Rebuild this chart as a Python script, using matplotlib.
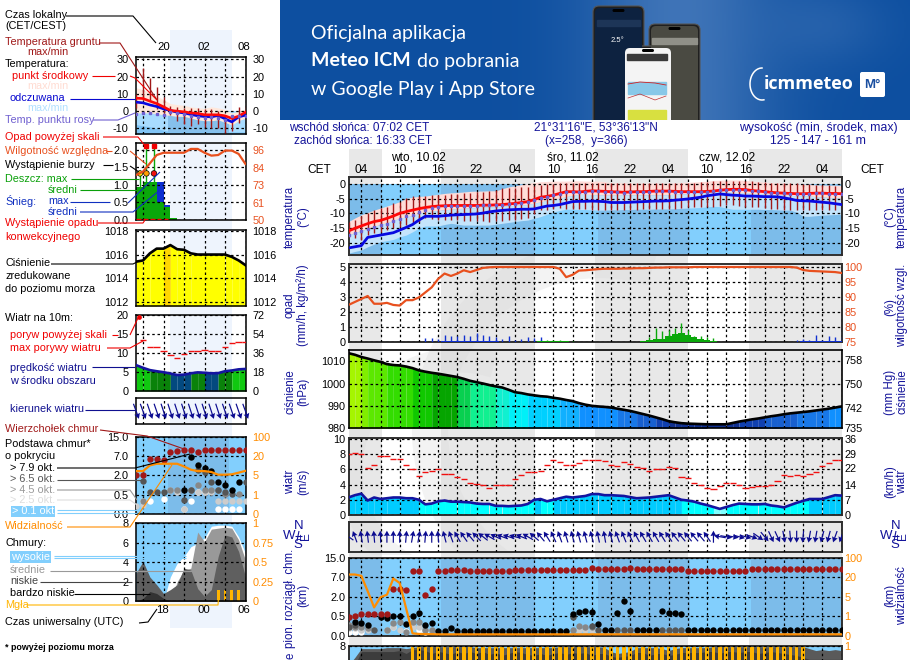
import numpy as np
import matplotlib
matplotlib.use("Agg")
import matplotlib.pyplot as plt
from matplotlib.patches import FancyBboxPatch, Rectangle

plt.rcParams['font.family'] = ['Liberation Sans', 'DejaVu Sans']
plt.rcParams['font.size'] = 7.8
plt.rcParams['axes.unicode_minus'] = False

W, H = 910, 660
NAN = float('nan')

# ---- main meteogram, hourly from 02:00 on 10.02
hours = np.arange(78)
temp_mid = [-16, -15.1, -14.3, -13.5, -12.8, -12.4, -11.7, -10.9, -10, -9.4, -8.9, -8.4, -8, -7.7, -7.5, -7.4, -7.3, -7.3, -7.3, -7.3,
            -7.3, -7.2, -7.2, -7.1, -7, -6.8, -6.6, -6.3, -6, -5.3, -4.5, -4.2, -3.8, -3.2, -2.6, -2.6, -2.7, -2.5, -2.3, -2.4,
            -2.5, -2.6, -2.7, -2.8, -2.7, -2.6, -2.6, -2.5, -2.4, -2.4, -2.4, -2.5, -2.6, -2.6, -2.6, -2.6, -2.5, -2.4, -2.1, -1.9,
            -1.8, -1.8, -1.9, -2.2, -2.4, -2.6, -2.8, -3, -3.1, -3.2, -3.3, -3.3, -3.2, -3.1, -3.1, -3.2, -3.2, -3.3]
feels_mid = [-21.8, -21.4, -21, -18.2, -17.8, -17.4, -17, -16.6, -15.7, -14.8, -13.8, -12.3, -11, -11, -11, -10.8, -10.6, -10.5, -10.4, -10.3,
             -10.2, -9.9, -9.5, -9.2, -9, -8.8, -8.7, -8.6, -8.6, -8.5, -8, -7.5, -7.3, -7, -6.5, -6, -5.9, -5.9, -5.8, -5.9,
             -6, -6.3, -6.3, -6.3, -6.2, -6.1, -6, -5.9, -5.8, -5.8, -5.7, -5.5, -5.3, -5.1, -4.8, -4.5, -4, -3.7, -3.4, -3.6,
             -3.8, -3.9, -4.1, -4.1, -4.2, -4.3, -4.3, -4.4, -4.7, -5.1, -5.6, -5.7, -5.8, -6, -6.2, -6.4, -6.7, -7]
temp_up = [-12.8, -11.6, -10.5, -9.7, -8.9, -8.2, -7.5, -6.8, -6, -4.9, -4.5, -4.2, -4.1, -3.8, -3.5, -3.2, -3, -2.9, -2.7, -2.5,
           -2.4, -2.4, -2.3, -2.3, -1.6, -1, -0.6, -0.2, 0.2, 0.5, 0.8, 0.9, 1, 1, 1, 1.1, 1.1, 1, 1, 1,
           0.8, 0.4, 0.4, 0.4, 0.3, 0.3, 0.3, 0.3, 0.3, 0.3, 0.3, 0.4, 0.5, 0.6, 0.7, 0.8, 1, 1.2, 1.3, 1.4,
           1.4, 1.4, 1.2, 1, 0.8, 0.6, 0.5, 0.4, 0.3, 0.2, 0.1, 0, -0.1, -0.3, -0.3, -0.4, -0.4, -0.5]
feels_up = [-17.4, -16.6, -15.9, -15.1, -14.4, -13.8, -13.2, -12.4, -11.7, -11.2, -10.7, -10.1, -9.5, -9.2, -9, -8.8, -8.6, -8.4, -8.3, -8.1,
            -8, -7.9, -7.8, -7.7, -7.6, -7.4, -7.3, -7.1, -7, -6.5, -6.1, -5.6, -5.2, -4.8, -4.3, -3.9, -3.5, -3.5, -3.6, -3.7,
            -3.8, -3.8, -3.8, -3.8, -3.7, -3.7, -3.7, -3.7, -3.7, -3.7, -3.6, -3.5, -3.4, -3.3, -3.1, -3, -2.8, -2.7, -2.6, -2.7,
            -2.8, -2.9, -3, -3.2, -3.3, -3.4, -3.6, -3.7, -3.8, -3.9, -4, -4, -4.1, -4.3, -4.4, -4.6, -4.7, -4.9]
feels_low = [-23.6, -23, -22.5, -21.4, -20.5, -19.7, -19.3, -18.9, -18, -17.4, -16.3, -15, -14.3, -14.3, -14.3, -13.8, -13.4, -13.7, -14, -14,
             -14, -14, -14, -13.7, -13.4, -13.1, -12.8, -12.5, -12.3, -11.7, -11.1, -10.3, -9.5, -9, -8.6, -8.6, -8.7, -8.7, -8.8, -8.9,
             -8.9, -8.8, -8.8, -8.7, -8.7, -8.6, -8.6, -8.6, -8.5, -8.5, -8.5, -8.4, -8.3, -8.2, -8.1, -8, -7.8, -7.6, -7.7, -8.2,
             -8.6, -8.6, -8.6, -8.6, -8.6, -8.7, -8.7, -8.8, -8.9, -8.9, -9.6, -11, -11, -10.8, -10.6, -10.5, -10.4, -10.3]
dew_point = [-17.5, -16.8, -16, -15.4, -14.7, -14, -13.5, -12.6, -12, -11, -10.4, -9.4, -8.7, -8.2, -7.9, -7.6, -7.5, -7.4, -7.4, -7.4,
             -7.4, -7.3, -7.3, -7.2, -7.1, -6.9, -6.7, -6.4, -6.1, -5.4, -4.6, -4.3, -3.9, -3.3, -2.7, -2.7, -2.8, -2.6, -2.4, -2.5,
             -2.6, -2.7, -2.8, -2.9, -2.8, -2.7, -2.7, -2.6, -2.5, -2.5, -2.5, -2.6, -2.7, -2.7, -2.7, -2.7, -2.6, -2.5, -2.2, -2,
             -1.9, -1.9, -2, -2.3, -2.5, -2.7, -2.9, -3.1, -3.2, -3.3, -3.4, -3.4, -3.3, -3.2, -3.2, -3.3, -3.3, -3.4]
ground_max = [-13, -12.3, -10.9, -9.8, -8.9, -8.3, -7.7, -6.6, -6, -4.9, -4.1, -4.1, -4, -3.9, -3.8, -3.6, -3.4, -3.3, -3.2, -3,
              -2.8, -2.6, -2.4, -2, -1.5, -1.3, -1.2, -1, -0.9, -0.6, -0.3, -0.1, 0, 0.2, 0.2, 0.2, 0.2, 0.2, 0.2, 0.2,
              0.2, 0.2, 0.2, 0.2, 0.2, 0.2, 0.2, 0.2, 0.2, 0.2, 0.2, 0.2, 0.3, 0.4, 0.5, 0.6, 0.8, 1, 1.1, 1.1,
              1.1, 1.1, 1, 1, 0.8, 0.6, 0.5, 0.4, 0.3, 0.2, 0.2, 0.1, 0, -0.2, -0.3, -0.4, -0.5, -0.5]
ground_min = [-18, -18.5, -19, -17.4, -16.8, -16.2, -15.7, -15.1, -14.5, -14, -13.4, -12.8, -11.7, -12, -12.3, -12.3, -12.3, -12.4, -12.6, -12.6,
              -12.7, -12.7, -12.8, -12.7, -12.6, -12.4, -12.3, -12, -11.7, -10.3, -8.9, -8.7, -8.5, -8.3, -8.4, -8.5, -8.6, -8.6, -8.7, -8.8,
              -8.9, -8.8, -8.8, -8.7, -8.7, -8.7, -8.6, -8.6, -8.6, -8.6, -8.6, -8.4, -8.2, -8, -7.9, -7.8, -7.7, -7.7, -7.5, -7.3,
              -7.2, -7.5, -7.8, -7.9, -8, -8.3, -8.4, -8.6, -8.8, -8.9, -8.9, -9, -9, -8.9, -8.9, -8.8, -8.7, -8.6]
humidity = [87.3, 88.3, 89.3, 90.3, 87.7, 87.7, 88, 87.3, 87.1, 88.9, 88.9, 89.8, 91.5, 93.2, 96, 97.8, 97, 97.8, 98.9, 98.3,
            99, 99.7, 99.9, 100, 100, 100, 100, 100, 100, 100, 100, 100, 100, 99.4, 96.6, 97.4, 98.8, 98.9, 99.1, 99.3,
            99.4, 99.4, 99.4, 99.5, 99.5, 99.6, 99.6, 99.7, 99.8, 99.8, 99.9, 99.9, 99.9, 99.9, 100, 100, 100, 100, 100, 100,
            100, 100, 100, 100, 100, 100, 100, 100, 100, 100, 99.8, 99, 98.7, 98.6, 98.5, 98.4, 98.3, 98]
rain_mean = [0, 0, 0, 0, 0, 0, 0, 0, 0, 0, 0, 0, 0, 0, 0, 0, 0, 0, 0, 0,
             0, 0, 0, 0, 0, 0, 0, 0, 0, 0.01, 0.02, 0.02, 0.02, 0.02, 0.02, 0.01, 0, 0, 0, 0,
             0, 0, 0, 0, 0, 0, 0.02, 0.1, 0.15, 0.2, 0.35, 0.5, 0.6, 0.45, 0.3, 0.15, 0.1, 0.05, 0, 0,
             0, 0, 0, 0, 0, 0, 0, 0, 0, 0, 0, 0, 0, 0, 0, 0, 0, 0]
rain_max = [0, 0, 0, 0, 0, 0, 0, 0, 0, 0, 0, 0, 0, 0, 0, 0, 0, 0, 0, 0,
            0, 0, 0, 0, 0, 0, 0, 0, 0, 0.05, 0.1, 0.12, 0.1, 0.1, 0.08, 0.05, 0, 0, 0, 0,
            0, 0, 0, 0, 0, 0, 0.05, 0.3, 0.9, 0.7, 0.8, 0.9, 1.25, 0.8, 0.35, 0.4, 0.3, 0.25, 0, 0,
            0, 0, 0, 0, 0, 0, 0, 0, 0, 0, 0, 0, 0, 0, 0, 0, 0, 0]
snow_mean = [0, 0, 0, 0, 0, 0, 0, 0, 0, 0, 0, 0, 0.01, 0.01, 0.01, 0.04, 0.05, 0.05, 0.06, 0.07,
             0.08, 0.08, 0.06, 0.03, 0.01, 0.01, 0.01, 0.01, 0.01, 0.01, 0.01, 0, 0, 0, 0, 0, 0, 0, 0, 0,
             0, 0, 0, 0, 0, 0, 0, 0, 0, 0, 0, 0, 0, 0, 0, 0, 0, 0, 0, 0,
             0, 0, 0, 0, 0, 0, 0, 0, 0, 0, 0.01, 0.02, 0.02, 0.04, 0.02, 0.04, 0.03, 0.03]
snow_max = [0, 0, 0, 0, 0, 0, 0, 0, 0, 0, 0, 0, 0.25, 0.25, 0.2, 0.45, 0.35, 0.4, 0.45, 0.4,
            0.55, 0.45, 0.4, 0.3, 0.15, 0.35, 0.1, 0.2, 0.3, 0.25, 0.3, 0.05, 0, 0, 0, 0, 0, 0, 0, 0,
            0, 0, 0, 0, 0, 0, 0, 0, 0, 0, 0, 0, 0, 0, 0, 0, 0, 0, 0, 0,
            0, 0, 0, 0, 0, 0, 0, 0, 0, 0, 0.1, 0.2, 0.1, 0.45, 0.1, 0.4, 0.3, 0.3]
pressure = [1013.7, 1013, 1012, 1011.3, 1010.5, 1009.8, 1008.8, 1008.4, 1008.2, 1007.7, 1007, 1006, 1005.4, 1004.9, 1004.5, 1004, 1003.5, 1003, 1002.2, 1001.3,
            1000.7, 1000.1, 999.4, 998.8, 998.3, 997.3, 996.2, 995.8, 995.2, 994.8, 994.4, 994.2, 993.7, 993.3, 992.7, 992.2, 991.3, 990.6, 990.1, 989.8,
            989.6, 989.3, 988.8, 988.3, 987.8, 987.1, 986.4, 985.7, 984.9, 984.1, 983.2, 982.7, 982.3, 982.1, 982, 981.9, 981.8, 981.8, 981.8, 981.8,
            982.4, 983, 983.5, 984, 984.4, 984.9, 985.4, 985.8, 986.3, 986.7, 987, 987.3, 987.6, 988, 988.4, 988.8, 989.3, 989.8]
wind = [2.3, 2.6, 2.8, 1.9, 2.3, 2.1, 2.2, 2.3, 2.3, 2.2, 2.2, 2, 1.4, 1.5, 1.8, 1.9, 1.75, 1.75, 1.7, 1.65,
        1.5, 1.45, 1.45, 1.2, 1.2, 1.15, 1.2, 1.25, 1.45, 2, 2.1, 1.8, 2, 2.2, 2.4, 2.3, 2.4, 2.5, 2.75, 2.75,
        2.6, 2.6, 2.55, 2.5, 2.35, 2.2, 2.25, 2.3, 2.4, 2.5, 2.6, 2.3, 2, 1.9, 1.75, 1.5, 1.3, 1.05, 0.8, 1.05,
        1.3, 1.5, 1.45, 1.4, 1.4, 1.45, 1.25, 1.15, 1, 1.3, 1.6, 1.85, 2.1, 2.1, 2.1, 2.35, 2.6, 2.55]
gust = [8, 8.1, 8, 6.2, 6.6, 7.7, 7.7, 7.3, 7.3, 6.6, 6, 5.1, 5.6, 5.8, 6.1, 5.4, 5.4, 4.95, 4.7, 4.15,
        4.1, 3.9, 3.55, 4, 4, 4, 4.75, 5.3, 5.6, 5.7, 5.8, 6.6, 7.2, 7, 6.5, 6.6, 6.8, 7.2, 7.2, 7.2,
        7.1, 6.6, 6.4, 6.9, 6.7, 6.3, 6.2, 5.8, 6.1, 6.1, 6.3, 6.2, 5, 4.8, 4.2, 4, 3.6, 3.4, 3.8, 4.2,
        4.2, 4, 3.6, 3.7, 3.8, 3.8, 4, 4.5, 5.2, 5.1, 5.2, 5.1, 5.4, 5.7, 6.4, 6.8, 7.2, 7.2]
wind_angle = [145, 110, 100, 97, 95, 92, 90, 90, 90, 85, 80, 80, 85, 90, 95, 105, 110, 120, 125, 130,
              135, 142, 150, 155, 160, 162, 165, 158, 150, 140, 130, 122, 115, 110, 107, 105, 105, 105, 105, 102,
              100, 105, 110, 112, 115, 118, 120, 120, 120, 122, 125, 128, 130, 130, 130, 130, 125, 90, 170, -10,
              -10, -15, -15, -20, -35, -50, -65, -65, -80, -85, -90, -95, -100, -100, -105, -105, -110, -110]

cloud_top = [0.47, 0.55, 0.67, 0.67, 0.7, 0.7, 0.7, 4.07, 3.9, 3.7, 9.7, 9.7, 2.5, 3.9, 9.5, 9.7, 9.8, 9.8, 9.8, 9.7,
             9.7, 9.7, 9.7, 9.5, 9.5, 9.7, 10, 10, 10, 10, 10, 10, 10, 10, 10, 10, 10, 10, 10.6, 10.2,
             10.2, 10.2, 10.2, 10.2, 10.8, 10.2, 10.2, 10.2, 10.2, 10.2, 10.2, 10.2, 10.2, 9.7, 9.7, 9.7, 9.7, 9.7, 9.7, 9.7,
             9.7, 9.7, 9.7, 10.2, 10.2, 10.2, 10.2, 10.2, 10.2, 10.2, 10.2, 10.2, 10.2, 10.2, 10.2, 10.2, 10.2, 10.2]
base_black = [NAN, 0.36, 0.32, 0.28, NAN, 0.49, 0.45, 0.53, 0.53, 0.3, 0.53, 0.71, 0.28, 0.32, 0.13, 0.13, 0.21, 0.13, 0.13, 0.13,
              0.13, 0.13, 0.13, 0.13, 0.13, 0.13, 0.13, 0.13, 0.13, 0.13, 0.13, 0.13, 0.13, 0.13, 0.13, 0.65, 0.8, 0.92, 0.8, 0.3,
              0.14, 0.14, 0.71, 1.64, 0.92, 0.14, 0.14, 0.14, 0.14, 0.92, 0.71, 0.71, 0.65, 0.14, 0.14, 0.14, 0.14, 0.14, 0.14, 0.14,
              0.14, 0.14, 0.14, 0.14, 0.14, 0.14, 0.14, 0.14, 0.14, 0.14, 0.14, 0.14, 0.14, 0.14, 0.14, 0.14, 0.14, 0.14]
base65_hours = [0, 1, 4, 35, 38, 39, 42, 43, 44, 49, 50, 51, 52]
base65_km = [0.23, 0.28, 0.15, 0.49, 0.26, 0.15, 0.14, 0.14, 0.14, 0.14, 0.14, 0.14, 0.14]
base45_hours = [0, 1, 2, 3, 6, 7, 8, 9, 10, 11, 12, 13, 35, 36, 37, 38]
base45_km = [0.28, 0.23, 0.23, 0.19, 0.15, 0.32, 0.36, 0.1, 0.36, 0.36, 0.15, 0.15, 0.15, 0.26, 0.23, 0.23]
base25_hours = [0, 1, 2, 3, 6, 7, 8, 10, 11, 12, 13, 36, 37, 38]
base25_km = [0.19, 0.19, 0.15, 0.15, 0.15, 0.23, 0.15, 0.23, 0.23, 0.15, 0.15, 0.15, 0.15, 0.15]
base01_hours = [0, 1, 2, 7, 9, 11, 12]
base01_km = [0.1, 0.1, 0.09, 0.23, 0.12, 0.15, 0.1]
visibility = [31, 31, 25.6, 9.2, 2.8, 4.9, 6.5, 19, 15.5, 2.6, 0.12, 0.09, 0.08, 0.08, 0.07, 0.07, 0.07, 0.07, 0.07, 0.07,
              0.07, 0.07, 0.07, 0.07, 0.07, 0.07, 0.07, 0.07, 0.07, 0.07, 0.07, 0.07, 0.07, 0.07, 0.07, 0.07, 0.07, 0.07, 0.07, 0.07,
              0.07, 0.07, 0.07, 0.07, 0.07, 0.07, 0.07, 0.07, 0.07, 0.07, 0.07, 0.07, 0.07, 0.07, 0.07, 0.07, 0.07, 0.07, 0.07, 0.07,
              0.07, 0.07, 0.07, 0.07, 0.07, 0.07, 0.07, 0.07, 0.07, 0.07, 0.07, 0.07, 0.07, 0.07, 0.07, 0.07, 0.07, 0.07]
cloud_mid_main = [6, 6.8, 7.7, 7.7, 7.7, 7.7, 7.8, 7.8, 7.8, 7.7, 7.8, 7.9, 7.9, 7.9, 7.9, 7.9, 7.9, 7.9, 7.9, 7.9,
                  7.8, 7.8, 7.8, 7.8, 7.8, 7.8, 7.8, 7.8, 7.8, 7.8, 7.8, 7.8, 7.8, 7.9, 7.9, 7.9, 7.9, 7.9, 7.9, 7.9,
                  7.8, 7.4, 7.2, 7.3, 7.4, 7.8, 7.8, 7.8, 7.8, 7.7, 7.5, 7.7, 7.8, 7.8, 7.8, 7.8, 7.8, 7.9, 7.9, 7.9,
                  7.9, 7.9, 7.9, 7.9, 7.9, 7.9, 7.9, 7.9, 7.9, 7.9, 7.9, 7.9, 7.7, 7.5, 7.6, 7.5, 7.6, 7.5]
cloud_low_main = [5, 6, 7.4, 7.4, 7.4, 7.4, 7.4, 7.4, 7.5, 7.2, 7.6, 7.6, 7.5, 7.2, 7.4, 7.3, 7.1, 7.4, 7.2, 7.4,
                  7.2, 7.4, 7.1, 7.3, 7, 7.2, 7.4, 7.3, 7.1, 7, 7.2, 7, 7.2, 7.3, 7.1, 7.3, 7.2, 7.3, 7, 7.2,
                  7.2, 6.9, 6.8, 6.9, 7, 7.3, 7.3, 7, 7.2, 7.2, 7, 7.1, 7.3, 7.3, 7.3, 7.3, 7.4, 7.4, 7.2, 7.4,
                  7.4, 7.3, 7.4, 7.4, 7.2, 7.3, 7.4, 7.3, 7.2, 7.1, 7, 6.8, 6.6, 6.6, 6.6, 6.6, 6.6, 6.6]
fog_hours = np.arange(10, 72)

# ---- left legend meteogram, hourly from 16:00
left_hours = np.arange(17)
left_temp = [7.5, 7.3, 5.8, 4.4, 2.5, 0.4, 0, -0.4, -1, -1.3, -2.1, -2.1, -2.1, -2.7, -4.2, -2.9, -0.6]
left_feels = [5.2, 4.8, 3.6, 2.7, 1.3, 0.4, -0.6, -1, -1.9, -2.7, -3.1, -3.3, -2.5, -4.4, -6.2, -3.3, -2.3]
left_dew = [-1.5, -1, -1, -1.5, -2.3, -0.6, -1.3, -1.7, -2.7, -3.6, -4, -3.3, -3.8, -5.2, -2.9, -2.9, -2.9]
left_temp_up = [13.5, 12.5, 10.6, 8.7, 6.7, 4.4, 3.8, 3.3, 2.5, 1.9, 1.7, 2.5, 1.9, 1, -1, 0, 1.3]
left_feels_up = [-1, -1, -1, -1.5, -2, -2.5, -3, -3, -4, -5, -5.5, -5.5, -5, -6.5, -8, -5.5, -4]
left_feels_low = [-7.7, -8.5, -9, -10, -11, -12, -12, -12, -12, -12, -12, -12, -12, -12, -12, -12, -12]
left_ground_max = [10, 25, 19, 14, 8, 3, 2.5, 2, 2, 2, 1.3, 1, 0, -2, -3, 2.5, 3]
left_ground_min = [2, 6.7, 6.7, 1, -1, -2, -5.8, -7.7, -8.7, -7.7, -9, -10, -9.6, -12.5, -11.5, -6.7, -4]
left_humidity = [79.6, 81.8, 87.2, 92.7, 94.2, 94.2, 94.2, 94.2, 96.7, 96.7, 94.2, 92.3, 92.7, 95.6, 95.6, 93.4, 86.8]
left_rain = [0.95, 1.09, 1.09, 0.52, 0.36, 0.07]
left_snow = [0, 0, 0, 0.57, 0.07, 0]
left_pressure = [1015.4, 1015.5, 1016.1, 1016.5, 1016.5, 1016.8, 1016.45, 1016.4, 1016.1, 1016, 1016, 1016, 1016, 1016, 1015.8, 1015.5, 1015.1]
left_wind = [6.8, 6.1, 5.5, 5.2, 4.95, 4.6, 4.2, 4.3, 4.65, 4.9, 4.8, 4.65, 4.7, 5.2, 5.4, 5.7, 5.8]
left_gust = [NAN, 13.3, 11.6, 11.6, 10.4, 9.4, 8.7, 9.8, 10.4, 10.6, 10.8, 10.4, 10.4, 11.6, 12.6, 12.9, 12.9]
left_angle = [-70, -70, -71, -71, -72, -72, -72, -72, -72, -72, -72, -72, -72, -71, -71, -71, -70]
left_top = [2, 2, 6.2, 6.2, 6, 8.6, 9.2, 9.5, 9.5, 8.6, 9.5, 9.5, 9.5, 9.5, 9.5, 9.5, 9.5]
left_black = [NAN, NAN, NAN, NAN, NAN, NAN, NAN, 0.9, 6.85, 4.75, 3.9, 3.1, 1.49, 1.23, 0.9, 1.49, NAN]
left_65 = [NAN, 1.56, 0.67, 0.67, 0.67, NAN, NAN, 0.36, 0.9, 3.45, 2.85, 1.49, 0.85, 0.67, 0.59, NAN, 1.49]
left_45 = [NAN, 0.34, NAN, NAN, NAN, 0.85, 0.85, NAN, 0.9, 1.23, 0.9, 0.9, 0.9, 0.59, NAN, 0.59, NAN]
left_25 = [0.2, 0.23, 0.67, NAN, NAN, 0.9, 0.72, 0.13, NAN, 0.72, 0.72, 0.67, 0.34, 0.34, 0.34, 0.34, 0.34]
left_01 = [NAN, 0.34, 0.34, NAN, 0.38, NAN, NAN, 0.12, 0.34, 0.72, 0.72, NAN, 0.12, 0.12, 0.12, 0.12, NAN]
left_visibility = [8.3, 8.3, 12.7, 14, 14, 14, 14, 11.9, 9.4, 8.3, 8.3, 7.6, 5.5, 5.5, 5.8, 7.1, 8.5]
left_cloud_high = [0, 0, 0, 0, 0, 2.5, 3.9, 4.6, 5.6, 5.95, 6.5, 7.7, 7.8, 7.8, 7.7, 6.6, 4.9]
left_cloud_mid = [0, 0, 0, 0, 0, 0, 2, 3.2, 3.4, 7.1, 6.1, 7.4, 7.5, 7.6, 7.5, 6.3, 4.2]
left_cloud_low = [2.9, 4.1, 2.5, 1.7, 0.8, 1.2, 1.7, 3.4, 3.2, 1.3, 0.5, 1.2, 4.6, 6.8, 6.6, 5.1, 2.5]
left_cloud_vlow = [0, 0.3, 1, 0.8, 0.3, 0, 0, 0, 0, 0, 0, 0, 0, 0, 0, 0, 0]
left_fog_hours = [12, 13, 14, 15]

# colour classes used by the panels
pressure_bins = [975, 983, 985, 987, 989, 991, 993, 995, 997, 999, 1001, 1003, 1005, 1007, 1009, 1011, 1012, 1014, 1016.64, 1030]
pressure_colors = ['#103090', '#1040b0', '#1860d0', '#1878e8', '#1090ff', '#10b0ff', '#00d0ff', '#00f0f8', '#10f0d0', '#10f090',
                   '#08d050', '#05a500', '#10c800', '#33dd00', '#5ce800', '#80ee00', '#a5f500', '#ffff00', '#ffd700']
wind_bins = [0, 1, 2, 4, 4.75, 5.5, 30]
wind_colors = ['#80ffff', '#00ffff', '#00ccff', '#03497f', '#0a820a', '#10c810']

NAVY = '#14149a'
SKY = '#82cffd'
SKY_DARK = '#7cbcea'
RH_COL = '#e8501e'
VIS_COL = '#ff8c00'
BROWN = '#a01818'
km_pos = [0, 0.5, 2, 7, 15]
vis_pos = [0, 1, 5, 20, 100]
idx = [0, 1, 2, 3, 4]

fig = plt.figure(figsize=(W / 100, H / 100), dpi=100, facecolor='white')


def px_axes(left, top, right, bottom, z=2):
    a = fig.add_axes([left / W, 1 - bottom / H, (right - left) / W, (bottom - top) / H], zorder=z)
    a.patch.set_visible(False)
    return a


bg = px_axes(0, 0, W, H, z=0)
bg.set_xlim(0, W)
bg.set_ylim(H, 0)
bg.axis('off')
over = px_axes(0, 0, W, H, z=6)
over.set_xlim(0, W)
over.set_ylim(H, 0)
over.axis('off')

# page background: night columns and the legend's band
night_px = [(348.5, 381.7), (441, 535), (595, 687.7), (749, 841.5)]
for a0, a1 in night_px:
    bg.add_patch(Rectangle((a0, 149), a1 - a0, H - 149, color='#e8e8e8', lw=0))
bg.add_patch(Rectangle((170, 30), 61.7, 598, color='#eef4fd', lw=0))

# faint logo watermark behind the main panels
wm_clip = Rectangle((348.5, 255), 493, 300, transform=bg.transData)
for cx, cy, r, wd in [(600, 430, 170, 26), (460, 470, 110, 18)]:
    th = np.linspace(np.pi * 0.55, np.pi * 1.6, 60)
    ln, = bg.plot(cx + r * np.cos(th), cy + r * np.sin(th), color='#d8d8d8', lw=wd, alpha=0.3, solid_capstyle='butt')
    ln.set_clip_path(wm_clip)


def setup(a, xt, yt, xlim, ylim, frame='#303030', lw=1.4, pad=2.2):
    a.set_xlim(*xlim)
    a.set_ylim(*ylim)
    a.set_xticks(xt)
    a.set_yticks(yt)
    a.set_axisbelow(False)
    a.grid(True, color='black', lw=0.9, ls=(0, (2, 2.2)))
    a.tick_params(length=0, labelbottom=False, pad=pad)
    for s in a.spines.values():
        s.set_color(frame)
        s.set_linewidth(lw)


def right_axis(a, ticks, lim, color='black', pad=2.2, labels=None):
    r = a.twinx()
    r.set_ylim(*lim)
    r.set_yticks(ticks)
    if labels:
        r.set_yticklabels(labels)
    r.tick_params(length=0, labelcolor=color, pad=pad)
    r.grid(False)
    for s in r.spines.values():
        s.set_visible(False)
    return r


def binned_fill(a, x, y, floor, bins, colors):
    y = np.asarray(y, float)
    for i in range(len(x) - 1):
        k = np.searchsorted(bins, (y[i] + y[i + 1]) / 2) - 1
        k = min(max(k, 0), len(colors) - 1)
        a.fill_between(x[i:i + 2], y[i:i + 2], floor, color=colors[k], lw=0, zorder=1)


def fwd(v):
    return np.interp(v, km_pos, idx)


def inv(v):
    return np.interp(v, idx, km_pos)


def fwd_v(v):
    return np.interp(v, vis_pos, idx)


def inv_v(v):
    return np.interp(v, idx, vis_pos)


main_x = (0, 77)
main_grid = np.arange(2, 78, 3)
night_t = [(0, 5.2), (14.5, 29.2), (38.9, 53.4), (62.9, 77)]

# ---- main: temperature
ax = px_axes(348.5, 177, 841.5, 255)
setup(ax, main_grid, [0, -5, -10, -15, -20], main_x, (-24.2, 2.4))
ax.axhspan(-24.2, 0, color=SKY, lw=0, zorder=0.5)
for a0, a1 in night_t:
    ax.fill_between([a0, a1], -24.2, 0, color=SKY_DARK, lw=0, zorder=0.6)
ax.fill_between(hours, feels_up, temp_up, color='#ffdcd8', lw=0, zorder=0.8)
ax.fill_between(hours, feels_low, feels_up, color='#c4e4fb', lw=0, zorder=0.9)
ax.vlines(hours, ground_min, ground_max, color=BROWN, lw=1, zorder=3)
ax.plot(hours, feels_mid, color='#0808e0', lw=2, zorder=4)
ax.plot(hours, temp_mid, color='#ff0808', lw=2, zorder=4)
ax.plot(hours, dew_point, ls='none', marker='s', ms=2, color='#7060d0', zorder=5)
right_axis(ax, [0, -5, -10, -15, -20], (-24.2, 2.4))

# ---- main: precipitation and humidity
ax = px_axes(348.5, 264, 841.5, 341.7)
setup(ax, main_grid, [0, 1, 2, 3, 4, 5], main_x, (0, 5.2))
ax.vlines(hours, 0, rain_max, color='#0aa80a', lw=1, zorder=3)
ax.vlines(hours, 0, snow_max, color='#1030d0', lw=1, zorder=3)
ax.bar(hours, rain_mean, width=1, color='#0aa80a', lw=0, zorder=3)
ax.bar(hours, snow_mean, width=1, color='#1030d0', lw=0, zorder=3)
r = right_axis(ax, [75, 80, 85, 90, 95, 100], (75, 101), RH_COL)
r.plot(hours, humidity, color=RH_COL, lw=1.6, zorder=4)

# ---- main: pressure
ax = px_axes(348.5, 350.3, 841.5, 428.3)
setup(ax, main_grid, [980, 990, 1000, 1010], main_x, (980, 1015), frame='black', lw=1.2)
binned_fill(ax, hours, pressure, 980, pressure_bins, pressure_colors)
ax.plot(hours, pressure, color='black', lw=1.9, zorder=4)
right_axis(ax, [735, 742, 750, 758], (735, 761.3))

# ---- main: wind
ax = px_axes(348.5, 437.7, 841.5, 515)
setup(ax, main_grid, [0, 2, 4, 6, 8, 10], main_x, (0, 10.15))
binned_fill(ax, hours, wind, 0, wind_bins, wind_colors)
ax.plot(hours, wind, color='#1414a0', lw=1.9, zorder=4)
ax.hlines(gust, hours - 0.48, hours + 0.48, color='#f01010', lw=1, zorder=4)
right_axis(ax, [0, 7, 14, 22, 29, 36], (0, 36.5))

# ---- main: wind direction
ax = px_axes(348.5, 521.7, 841.5, 551.7)
setup(ax, main_grid, [], main_x, (0, 1))
ang = np.radians(wind_angle)
ax.quiver(hours, np.full(78, 0.5), np.cos(ang), np.sin(ang), pivot='mid', angles='uv', units='dots', scale_units='dots',
          scale=1 / 12, width=1.2, headwidth=5, headlength=4.5, headaxislength=4, color='#0c0c90', zorder=4)

# ---- main: cloud base
ax = px_axes(348.5, 557.7, 841.5, 635.7)
ax.set_yscale('function', functions=(fwd, inv))
setup(ax, main_grid, km_pos, main_x, (0, 15))
ax.set_yticklabels(['0.0', '0.5', '2.0', '7.0', '15.0'])
ax.axhspan(0, 15, color=SKY, lw=0, zorder=0.5)
for a0, a1 in night_t:
    ax.fill_between([a0, a1], 0, 15, color=SKY_DARK, lw=0, zorder=0.6)
ms = 4.6
ax.plot(base01_hours, base01_km, ls='none', marker='o', ms=ms, color='white', mew=0, zorder=3)
ax.plot(base25_hours, base25_km, ls='none', marker='o', ms=ms, color='#cccccc', mew=0, zorder=3.1)
ax.plot(base45_hours, base45_km, ls='none', marker='o', ms=ms, color='#888888', mew=0, zorder=3.2)
ax.plot(base65_hours, base65_km, ls='none', marker='o', ms=ms, color='#555555', mew=0, zorder=3.3)
ax.plot(hours, base_black, ls='none', marker='o', ms=ms, color='black', mew=0, zorder=3.4)
ax.plot(hours, cloud_top, ls='none', marker='o', ms=ms, color=BROWN, mew=0, zorder=3.5)
r = right_axis(ax, vis_pos, (0, 100), VIS_COL)
r.set_yscale('function', functions=(fwd_v, inv_v))
r.set_ylim(0, 100)
r.set_yticks(vis_pos)
r.set_yticklabels(['0', '1', '5', '20', '100'])
r.plot(hours, visibility, color=VIS_COL, lw=1.6)

# ---- main: clouds, cut by the page edge
ax = px_axes(348.5, 645.7, 841.5, 723.7)
setup(ax, main_grid, [8], main_x, (0, 8))
ax.axhspan(0, 8, color=SKY, lw=0, zorder=0.5)
ax.fill_between(hours, cloud_mid_main, 0, color='#5a5a5a', lw=0, zorder=1)
ax.fill_between(hours, cloud_low_main, 0, color='#3c3c3c', lw=0, zorder=1.1)
ax.bar(fog_hours, np.full(len(fog_hours), 8), width=0.55, color='#ffb400', lw=0, zorder=2)
right_axis(ax, [1], (0, 1), VIS_COL)

# ---- legend panels on the left
lx = (-0.1, 16)
lgrid = [1, 4, 7, 10, 13, 16]
L0, L1 = 135.5, 245.5
lpad = 5
lkw = dict(frame='black', lw=1.1, pad=lpad)

ax = px_axes(L0, 57, L1, 134)
setup(ax, lgrid, [-10, 0, 10, 20, 30], lx, (-13.2, 31.3), **lkw)
ax.axhspan(-13.2, 0, color='#a8dcff', lw=0, zorder=0.5)
ax.fill_between([4.7, 13.6], -13.2, 0, color='#86c0ec', lw=0, zorder=0.6)
ax.fill_between(left_hours, left_feels_up, left_temp_up, color='#ffe8dc', lw=0, zorder=0.8)
ax.fill_between(left_hours, left_feels_low, -13.2, color='#80c4f5', lw=0, zorder=0.9)
ax.vlines(left_hours, left_ground_min, left_ground_max, color=BROWN, lw=1, zorder=3)
ax.plot(left_hours, left_feels, color='#0808e0', lw=1.9, zorder=4)
ax.plot(left_hours, left_temp, color='#ff0808', lw=1.9, zorder=4)
ax.plot(left_hours, left_dew, ls='none', marker='s', ms=2, color='#7060d0', zorder=5)
right_axis(ax, [-10, 0, 10, 20, 30], (-13.2, 31.3), pad=lpad)

ax = px_axes(L0, 143.3, L1, 220)
setup(ax, lgrid, [0, 0.5, 1, 1.5, 2], lx, (0, 2.19), **lkw)
ax.set_yticklabels(['0.0', '0.5', '1.0', '1.5', '2.0'])
ax.bar(left_hours[:6], left_rain, width=1, align='edge', color='#0aa80a', lw=0, zorder=1)
ax.bar(left_hours[:6], left_snow, width=1, align='edge', bottom=left_rain, color='#1030d0', lw=0, zorder=1)
ax.vlines([0.55, 1.5, 2.6], [0.95, 1.09, 1.09], [1.33, 2.1, 2.1], color='#0aa80a', lw=1, zorder=3)
ax.plot([1.5, 2.6], [2.1, 2.1], ls='none', marker='s', ms=2.4, color='#f00000', zorder=4)
ax.scatter([0.55, 1.5, 2.6], [1.33, 1.33, 1.33], s=16, c=['#ffee00', '#ffa000', '#f01010'], edgecolors='black', lw=0.5, zorder=5)
ax.hlines([0.015] * 5, [0, 1, 2, 3, 4], [0.7, 1.7, 2.7, 3.7, 4.7], color='#f00000', lw=1, zorder=4)
r = right_axis(ax, [50, 61, 73, 84, 96], (50, 100.4), RH_COL, pad=lpad)
r.plot(left_hours, left_humidity, color=RH_COL, lw=1.6)

ax = px_axes(L0, 229.7, L1, 306)
setup(ax, lgrid, [1012, 1014, 1016, 1018], lx, (1011.65, 1018.1), **lkw)
binned_fill(ax, left_hours, left_pressure, 1011.65, pressure_bins, pressure_colors)
ax.plot(left_hours, left_pressure, color='black', lw=1.9, zorder=4)
right_axis(ax, [1012, 1014, 1016, 1018], (1011.65, 1018.1), pad=lpad)

ax = px_axes(L0, 315, L1, 391)
setup(ax, lgrid, [0, 5, 10, 15, 20], lx, (0, 20), **lkw)
binned_fill(ax, left_hours, left_wind, 0, wind_bins, wind_colors)
ax.plot(left_hours, left_wind, color='#1414a0', lw=1.9, zorder=4)
ax.hlines(left_gust, left_hours - 0.48, left_hours + 0.48, color='#f01010', lw=1, zorder=4)
ax.plot([0.4], [19.6], ls='none', marker='o', ms=2.4, color='#f00000', zorder=5)
right_axis(ax, [0, 18, 36, 54, 72], (0, 72), pad=lpad)

ax = px_axes(L0, 398.3, L1, 424.3)
setup(ax, lgrid, [], lx, (0, 1), **lkw)
ang = np.radians(left_angle)
ax.quiver(left_hours, np.full(17, 0.5), np.cos(ang), np.sin(ang), pivot='mid', angles='uv', units='dots', scale_units='dots',
          scale=1 / 16, width=1.2, headwidth=5, headlength=4.5, headaxislength=4, color='#0c0c90', zorder=4, clip_on=False)

ax = px_axes(L0, 436.7, L1, 514)
ax.set_yscale('function', functions=(fwd, inv))
setup(ax, lgrid, km_pos, lx, (0, 15), **lkw)
ax.set_yticklabels(['0.0', '0.5', '2.0', '7.0', '15.0'])
ax.axhspan(0, 15, color=SKY, lw=0, zorder=0.5)
ax.fill_between([4.7, 13.6], 0, 15, color=SKY_DARK, lw=0, zorder=0.6)
ax.plot(left_hours, left_01, ls='none', marker='o', ms=ms, color='white', mew=0, zorder=3)
ax.plot(left_hours, left_25, ls='none', marker='o', ms=ms, color='#cccccc', mew=0, zorder=3.1)
ax.plot(left_hours, left_45, ls='none', marker='o', ms=ms, color='#888888', mew=0, zorder=3.2)
ax.plot(left_hours, left_65, ls='none', marker='o', ms=ms, color='#555555', mew=0, zorder=3.3)
ax.plot(left_hours, left_black, ls='none', marker='o', ms=ms, color='black', mew=0, zorder=3.4)
ax.plot(left_hours, left_top, ls='none', marker='o', ms=ms, color=BROWN, mew=0, zorder=3.5)
r = right_axis(ax, vis_pos, (0, 100), VIS_COL, pad=lpad)
r.set_yscale('function', functions=(fwd_v, inv_v))
r.set_ylim(0, 100)
r.set_yticks(vis_pos)
r.set_yticklabels(['0', '1', '5', '20', '100'])
r.plot(left_hours, left_visibility, color=VIS_COL, lw=1.6)

ax = px_axes(L0, 523.3, L1, 601.3)
setup(ax, lgrid, [0, 2, 4, 6, 8], lx, (0, 8), **lkw)
ax.axhspan(0, 8, color=SKY, lw=0, zorder=0.5)
ax.fill_between(left_hours, left_cloud_high, 0, color='white', lw=0, zorder=1)
ax.fill_between(left_hours, left_cloud_mid, 0, color='#999999', lw=0, zorder=1.1)
ax.fill_between(left_hours, left_cloud_low, 0, color='#5f5f5f', lw=0, zorder=1.2)
ax.fill_between(left_hours, left_cloud_vlow, 0, color='#333333', lw=0, zorder=1.3)
ax.bar(left_fog_hours, [1.15] * 4, width=0.4, color='#ffb400', lw=0, zorder=2)
right_axis(ax, [0, 0.25, 0.5, 0.75, 1], (0, 1), VIS_COL, pad=lpad, labels=['0', '0.25', '0.5', '0.75', '1'])


# ---- text and pointer lines, in page pixels
def txt(x, y, s, color='black', **kw):
    kw.setdefault('fontsize', 7.8)
    kw.setdefault('va', 'center')
    return over.text(x, y, s, color=color, **kw)


def lead(pts, color='black', lw=0.8):
    xs, ys = zip(*pts)
    over.plot(xs, ys, color=color, lw=lw, solid_capstyle='butt')


legend_rows = [
    (5, 15, 'Czas lokalny', 'black'), (5, 26, '(CET/CEST)', 'black'),
    (5, 42, 'Temperatura gruntu', BROWN), (27, 52, 'max/min', BROWN), (5, 64, 'Temperatura:', 'black'),
    (12, 76, 'punkt środkowy', '#f00000'), (27, 86, 'max/min', '#ffdcd2'), (10, 98, 'odczuwana', '#0808d0'),
    (27, 108, 'max/min', '#b0e0ff'), (5, 120, 'Temp. punktu rosy', '#7060d0'), (5, 137, 'Opad powyżej skali', '#f00000'),
    (5, 151, 'Wilgotność względna', RH_COL), (5, 165, 'Wystąpienie burzy', 'black'), (5, 179, 'Deszcz: max', '#0aa00a'),
    (48, 190, 'średni', '#0aa00a'), (5, 201, 'Śnieg:', '#1030c0'), (48, 201, 'max', '#1030c0'), (48, 212, 'średni', '#1030c0'),
    (5, 223, 'Wystąpienie opadu', '#f00000'), (5, 237, 'konwekcyjnego', '#f00000'),
    (5, 263, 'Ciśnienie', 'black'), (5, 276, 'zredukowane', 'black'), (5, 289, 'do poziomu morza', 'black'),
    (5, 318, 'Wiatr na 10m:', 'black'), (10, 335, 'poryw powyżej skali', '#f00000'), (10, 348, 'max porywy wiatru', '#f00000'),
    (10, 368, 'prędkość wiatru', '#101090'), (10, 381, 'w środku obszaru', '#101090'), (10, 409, 'kierunek wiatru', '#101090'),
    (5, 429, 'Wierzchołek chmur', BROWN), (5, 444, 'Podstawa chmur*', 'black'), (5, 456, 'o pokryciu', 'black'),
    (10, 468, '> 7.9 okt.', 'black'), (10, 479, '> 6.5 okt.', '#555555'), (10, 490, '> 4.5 okt.', '#999999'), (10, 500, '> 2.5 okt.', '#dddddd'),
    (5, 526, 'Widzialność', VIS_COL), (5, 543, 'Chmury:', 'black'), (10, 570, 'średnie', '#999999'), (10, 581, 'niskie', '#444444'),
    (10, 593, 'bardzo niskie', 'black'), (5, 605, 'Mgła', '#ffb400'), (5, 622, 'Czas uniwersalny (UTC)', 'black'),
]
for x0, y0, s, c in legend_rows:
    txt(x0, y0, s, c)
over.add_patch(Rectangle((11, 505.5), 44, 11.5, color=SKY, lw=0))
txt(12, 511, '> 0.1 okt.', 'white')
over.add_patch(Rectangle((10, 551), 41, 12, color=SKY, lw=0))
txt(11, 557, 'wysokie', 'white')
txt(5, 648, '* powyżej poziomu morza', 'black', fontsize=6.4, fontweight='bold')

lead([(66, 16), (133, 16), (156, 43)])
lead([(100, 43), (120, 43), (157, 100)], BROWN)
lead([(92, 76), (115, 76)], '#f00000')
lead([(130, 76), (135, 78), (157, 100)], '#f00000')
lead([(70, 99), (135, 99)], '#0808d0')
lead([(93, 120), (118, 120), (135, 113)], '#7060d0')
lead([(103, 137), (138, 137), (146, 147)], '#f00000')
lead([(106, 151), (112, 151)], RH_COL)
lead([(130, 151), (146, 164)], RH_COL)
lead([(103, 165), (113, 165)])
lead([(130, 166), (139, 172)])
lead([(71, 179), (139, 179)], '#0aa00a')
lead([(80, 190), (145, 190)], '#0aa00a')
lead([(70, 202), (110, 202)], '#1030c0')
lead([(128, 203), (160, 172)], '#1030c0')
lead([(80, 212), (133, 212), (160, 190)], '#1030c0')
lead([(98, 223), (143, 223), (145, 220)], '#f00000')
lead([(51, 264), (133, 264), (137, 262)])
lead([(112, 335), (118, 335)], '#f00000')
lead([(130, 335), (138, 318)], '#f00000')
lead([(107, 348), (130, 348), (143, 341)], '#f00000')
lead([(92, 367), (135, 367)], '#101090')
lead([(85, 410), (135, 410)], '#101090')
lead([(100, 430), (147, 436), (184, 449)], BROWN)
lead([(57, 468), (135, 468), (190, 454)])
lead([(57, 480), (135, 480), (143, 480)], '#555555')
lead([(57, 490), (130, 490), (137, 500)], '#999999')
lead([(57, 500), (130, 500), (137, 505)], '#dddddd')
lead([(57, 510), (137, 510)], SKY)
lead([(57, 512.5), (137, 512.5)], SKY)
lead([(67, 527), (130, 527), (172, 465)], VIS_COL)
lead([(54, 556), (186, 556)], SKY)
lead([(54, 558), (186, 558)], SKY)
lead([(50, 571), (193, 571)], '#999999')
lead([(40, 582), (132, 582)], '#444444')
lead([(74, 594), (150, 594)])
lead([(27, 605), (218, 605), (219, 590)], '#ffb400')
lead([(139, 623), (148, 622), (157, 609)])

for x0, s in [(164, '20'), (204, '02'), (244, '08')]:
    txt(x0, 47, s, ha='center', fontsize=8.2)
for x0, s in [(162, '18'), (204, '00'), (244, '06')]:
    txt(x0, 610, s, ha='center', fontsize=8.2)

# header above the main panels
txt(359, 128, 'wschód słońca: 07:02 CET', NAVY, ha='center', fontsize=8.5)
txt(363, 141, 'zachód słońca: 16:33 CET', NAVY, ha='center', fontsize=8.5)
txt(596, 128, '21°31\'16"E, 53°36\'13"N', NAVY, ha='center', fontsize=8.5)
txt(586, 141, '(x=258,  y=366)', NAVY, ha='center', fontsize=8.5)
txt(818, 128, 'wysokość (min, środek, max)', NAVY, ha='center', fontsize=8.8)
txt(818, 141, '125 - 147 - 161 m', NAVY, ha='center', fontsize=8.8)
for x0, s in [(418, 'wto, 10.02'), (573, 'śro, 11.02'), (727, 'czw, 12.02')]:
    txt(x0, 157, s, ha='center', fontsize=8.6)
for h, s in zip(np.arange(2, 78, 6), ['04', '10', '16', '22'] * 3 + ['04']):
    txt(348.5 + h * 6.4, 170, s, ha='center', fontsize=8.6)
txt(319, 170, 'CET', ha='center', fontsize=8.6)
txt(872, 170, 'CET', ha='center', fontsize=8.6)

side_labels = [
    (290, 217, 'temperatura'), (303, 217, '(°C)'), (890, 217, '(°C)'), (902, 217, 'temperatura'),
    (290, 305, 'opad'), (303, 305, '(mm/h, kg/m²/h)'), (890, 307, '(%)'), (902, 305, 'wilgotność wzgl.'),
    (290, 392, 'ciśnienie'), (303, 392, '(hPa)'), (890, 392, '(mm Hg)'), (902, 392, 'ciśnienie'),
    (290, 482, 'wiatr'), (303, 482, '(m/s)'), (890, 482, '(km/h)'), (902, 482, 'wiatr'),
    (290, 598, 'pion. rozciągł. chm.'), (303, 595, '(km)'), (890, 595, '(km)'), (902, 596, 'widzialność'), (290, 656, 'e'),
]
for x0, y0, s in side_labels:
    txt(x0, y0, s, NAVY, rotation=90, ha='center', fontsize=8.3)
for cx in (298, 895):
    txt(cx - 9, 536, 'W', NAVY, ha='center', fontsize=9.5)
    txt(cx + 1, 526, 'N', NAVY, ha='center', fontsize=9.5)
    txt(cx + 8, 536, 'E', NAVY, ha='center', rotation=90, fontsize=8.5)
    txt(cx, 545, 'S', NAVY, ha='center', fontsize=9.5)
    lead([(cx - 3, 536), (cx + 4, 536)], NAVY)
    lead([(cx + 1, 531), (cx - 1, 541)], NAVY)

# ---- advert banner
ban = px_axes(280, 0, W, 120, z=3)
gx, gy = np.meshgrid(np.linspace(280, W, 315), np.linspace(0, 120, 60))
glow = np.exp(-((gx - 680) / 95.0) ** 2) * 0.9 + np.exp(-((gx - 830) / 60.0) ** 2 - ((gy - 25) / 40.0) ** 2) * 0.35
base = np.array([13, 79, 160]) / 255.0
light = np.array([68, 120, 186]) / 255.0
grad = base + glow[..., None] * (light - base)
ban.imshow(np.clip(grad, 0, 1), extent=(280, W, 120, 0), aspect='auto', zorder=0)
ban.set_xlim(280, W)
ban.set_ylim(120, 0)
ban.axis('off')

bw = dict(color='white', family=['Lato', 'DejaVu Sans'], fontsize=14, va='center')
ban.text(311, 33, 'Oficjalna aplikacja', **bw)
ban.text(311, 61, 'Meteo ICM', fontweight='bold', **bw)
ban.text(417, 61, 'do pobrania', **bw)
ban.text(311, 89, 'w Google Play i App Store', **bw)


def phone(x0, y0, x1, y1, screen):
    ban.add_patch(FancyBboxPatch((x0, y0), x1 - x0, 130 - y0, boxstyle='round,pad=0,rounding_size=6', fc='#202020', ec='#555555', lw=0.8, zorder=2))
    ban.add_patch(FancyBboxPatch((x0 + 2, y0 + 2), x1 - x0 - 4, 130 - y0, boxstyle='round,pad=0,rounding_size=5', fc=screen, ec='none', zorder=2.1))
    ban.add_patch(FancyBboxPatch(((x0 + x1) / 2 - 6, y0 + 3), 12, 3, boxstyle='round,pad=0,rounding_size=1.5', fc='black', ec='none', zorder=2.2))


phone(593, 6, 644, 120, '#0d2240')
phone(649, 24, 700, 120, '#4a4a42')
phone(623, 46, 673, 120, '#f4f4f4')
ban.text(611, 41, '2.5°', color='white', fontsize=5.5, zorder=3, va='center')
ban.add_patch(Rectangle((597, 20), 43, 6, color='#1d3557', zorder=3))
ban.add_patch(Rectangle((652, 38), 45, 6, color='#909088', zorder=3))
ban.add_patch(Rectangle((627, 54), 40, 6, color='#3a3a3a', zorder=3))
ban.add_patch(Rectangle((628, 82), 38, 12, color='#88c8e8', zorder=3))
ban.add_patch(Rectangle((628, 110), 38, 10, color='#d8e040', zorder=3))
ban.plot([628, 640, 655, 666], [84, 82, 83, 85], color='#d02020', lw=0.6, zorder=3.1)
ban.plot([628, 640, 655, 666], [98, 94, 100, 96], color='#c03030', lw=0.5, zorder=3.1)

ban.text(764, 84, 'icmmeteo', color='white', family=['Open Sans', 'DejaVu Sans'], fontweight='bold', fontsize=13, va='center')
arc = np.linspace(np.pi * 0.45, np.pi * 1.5, 40)
ban.plot(762 + 12 * np.cos(arc), 84 + 16 * np.sin(arc), color='white', lw=1.1)
ban.add_patch(FancyBboxPatch((860, 72), 25, 25, boxstyle='round,pad=0,rounding_size=2', fc='white', ec='none', zorder=3))
ban.text(872.5, 84.5, 'M°', color='#1a4fa0', fontweight='bold', fontsize=9.5, ha='center', va='center', zorder=4)

fig.savefig('out.png', dpi=100)
